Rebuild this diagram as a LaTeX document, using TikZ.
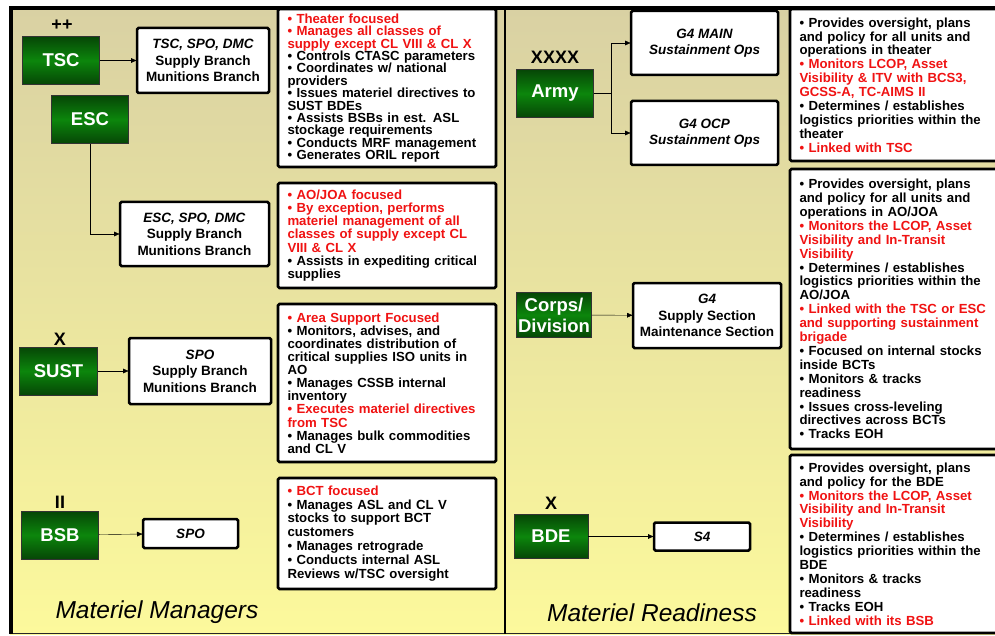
\documentclass[tikz,border=0pt]{standalone}
\usepackage{fontspec}
\setmainfont{Liberation Sans}
\usetikzlibrary{arrows.meta,positioning}
\definecolor{bgtop}{RGB}{217,209,163}
\definecolor{bgbot}{RGB}{252,249,156}
\definecolor{redtxt}{RGB}{240,18,18}
\definecolor{gdark}{RGB}{6,70,6}
\definecolor{gmid}{RGB}{12,134,12}
\newcommand{\rd}[1]{\textcolor{redtxt}{#1}}
\begin{document}
\begin{tikzpicture}[x=1pt,y=-1pt,>={Latex[length=6pt,width=5pt]},
unit/.style={draw=black!80,line width=0.8pt,top color=gdark,bottom color=gdark,middle color=gmid,
  text=white,font=\bfseries\fontsize{18.5}{21}\selectfont,align=center,inner sep=1pt,
  minimum width=77pt,minimum height=48pt},
cell/.style={draw,line width=2.5pt,rounded corners=1.5pt,fill=white,outer sep=0pt,
  font=\bfseries\fontsize{13.5}{16.5}\selectfont,align=center,inner sep=1pt},
notes/.style={draw,line width=2.8pt,rounded corners=1.5pt,fill=white,outer sep=0pt,
  anchor=north west,align=left,inner xsep=9.5pt,inner ysep=1pt,
  font=\bfseries\fontsize{13.2}{#1}\selectfont},
notes/.default=13.9,
echelon/.style={font=\bfseries\fontsize{18}{18}\selectfont,inner sep=0pt},
title/.style={font=\itshape\fontsize{24.5}{24.5}\selectfont,inner sep=0pt}]
\useasboundingbox (0,0) rectangle (995,636);
% background panels and frame
\shade[top color=bgtop,bottom color=bgbot] (10,8) rectangle (505,634);
\shade[top color=bgtop,bottom color=bgbot] (505,8) rectangle (1000,634);
\draw[line width=1pt,black!85] (10,633.5)--(1000,633.5);
\draw[line width=1.2pt] (505,8)--(505,634);
\draw[line width=4pt] (11,634)--(11,8)--(1000,8);

%% Materiel Managers
\node[unit] (tsc) at (61,60.5) {TSC};
\node[echelon] (tscech) at (62,25) {++};
\node[cell,minimum width=132pt,minimum height=65pt] (tscspo) at (203,60.5)
  {\textit{TSC, SPO, DMC}\\Supply Branch\\Munitions Branch};
\node[unit] (esc) at (90,119.5) {ESC};
\node[cell,minimum width=149pt,minimum height=64pt] (escspo) at (194.5,234)
  {\textit{ESC, SPO, DMC}\\Supply Branch\\Munitions Branch};
\node[unit,minimum width=78pt] (sust) at (58.5,371) {SUST};
\node[echelon] (sustech) at (60,339) {X};
\node[cell,minimum width=142pt,minimum height=66pt] (sustspo) at (200,371)
  {\textit{SPO}\\Supply Branch\\Munitions Branch};
\node[unit] (bsb) at (60,535) {BSB};
\node[echelon] (bsbech) at (60,502) {II};
\node[cell,minimum width=95pt,minimum height=29pt] (bsbspo) at (190.5,533.5) {\textit{SPO}};
\draw[->] (tsc)--(tscspo);
\draw[->] (esc.south) |- (escspo.west);
\draw[->] (sust)--(sustspo);
\draw[->] (bsb)--(bsbspo);

\node[notes=12.4,text width=199pt,minimum width=218pt,minimum height=158pt] (tscnote) at (278,9)
  {\rd{• Theater focused}\\
   \rd{• Manages all classes of}\\
   \rd{supply except CL VIII \& CL X}\\
   • Controls CTASC parameters\\
   • Coordinates w/ national\\
   providers\\
   • Issues materiel directives to\\
   SUST BDEs\\
   • Assists BSBs in est. ASL\\
   stockage requirements\\
   • Conducts MRF management\\
   • Generates ORIL report};
\node[notes=13.1,text width=199pt,minimum width=218pt,minimum height=105pt] (escnote) at (278,183)
  {\rd{• AO/JOA focused}\\
   \rd{• By exception, performs}\\
   \rd{materiel management of all}\\
   \rd{classes of supply except CL}\\
   \rd{VIII \& CL X}\\
   • Assists in expediting critical\\
   supplies};
\node[notes=13.1,text width=199pt,minimum width=218pt,minimum height=158pt] (sustnote) at (278,304)
  {\rd{• Area Support Focused}\\
   • Monitors, advises, and\\
   coordinates distribution of\\
   critical supplies ISO units in\\
   AO\\
   • Manages CSSB internal\\
   inventory\\
   \rd{• Executes materiel directives}\\
   \rd{from TSC}\\
   • Manages bulk commodities\\
   and CL V};
\node[notes=13.9,text width=199pt,minimum width=218pt,minimum height=111pt] (bsbnote) at (278,478)
  {\rd{• BCT focused}\\
   • Manages ASL and CL V\\
   stocks to support BCT\\
   customers\\
   • Manages retrograde\\
   • Conducts internal ASL\\
   Reviews w/TSC oversight};
\node[title] (mgrs) at (157,612) {Materiel Managers};

%% Materiel Readiness
\node[unit] (army) at (555,93.5) {Army};
\node[echelon] (armyech) at (555,57) {XXXX};
\node[cell,minimum width=147pt,minimum height=64pt] (g4main) at (704.5,43)
  {\textit{G4 MAIN}\\\textit{Sustainment Ops}};
\node[cell,minimum width=147pt,minimum height=64pt] (g4ocp) at (704.5,133)
  {\textit{G4 OCP}\\\textit{Sustainment Ops}};
\node[unit,minimum width=75pt,minimum height=45pt] (corps) at (554,315) {Corps/\\Division};
\node[cell,minimum width=148pt,minimum height=65pt] (g4div) at (707,315.5)
  {\textit{G4}\\Supply Section\\Maintenance Section};
\node[unit,minimum width=74pt,minimum height=44pt] (bde) at (551,536.5) {BDE};
\node[echelon] (bdeech) at (551,503) {X};
\node[cell,minimum width=96pt,minimum height=28pt] (s4) at (702,536.5) {\textit{S4}};
\draw (army.east) -- ++(17,0) coordinate (split);
\draw[->] (split) |- (g4main.west);
\draw[->] (split) |- (g4ocp.west);
\draw[->] (corps)--(g4div);
\draw[->] (bde)--(s4);

\node[notes,text width=220pt,minimum width=216pt,minimum height=152pt] (armynote) at (790,9)
  {• Provides oversight, plans\\
   and policy for all units and\\
   operations in theater\\
   \rd{• Monitors LCOP, Asset}\\
   \rd{Visibility \& ITV with BCS3,}\\
   \rd{GCSS-A, TC-AIMS II}\\
   • Determines / establishes\\
   logistics priorities within the\\
   theater\\
   \rd{• Linked with TSC}};
\node[notes,text width=220pt,minimum width=216pt,minimum height=280pt] (corpsnote) at (790,169)
  {• Provides oversight, plans\\
   and policy for all units and\\
   operations in AO/JOA\\
   \rd{• Monitors the LCOP, Asset}\\
   \rd{Visibility and In-Transit}\\
   \rd{Visibility}\\
   • Determines / establishes\\
   logistics priorities within the\\
   AO/JOA\\
   \rd{• Linked with the TSC or ESC}\\
   \rd{and supporting sustainment}\\
   \rd{brigade}\\
   • Focused on internal stocks\\
   inside BCTs\\
   • Monitors \& tracks\\
   readiness\\
   • Issues cross-leveling\\
   directives across BCTs\\
   • Tracks EOH};
\node[notes,text width=220pt,minimum width=216pt,minimum height=178pt] (bdenote) at (790,455)
  {• Provides oversight, plans\\
   and policy for the BDE\\
   \rd{• Monitors the LCOP, Asset}\\
   \rd{Visibility and In-Transit}\\
   \rd{Visibility}\\
   • Determines / establishes\\
   logistics priorities within the\\
   BDE\\
   • Monitors \& tracks\\
   readiness\\
   • Tracks EOH\\
   \rd{• Linked with its BSB}};
\node[title] (ready) at (652,613) {Materiel Readiness};
\end{tikzpicture}
\end{document}
